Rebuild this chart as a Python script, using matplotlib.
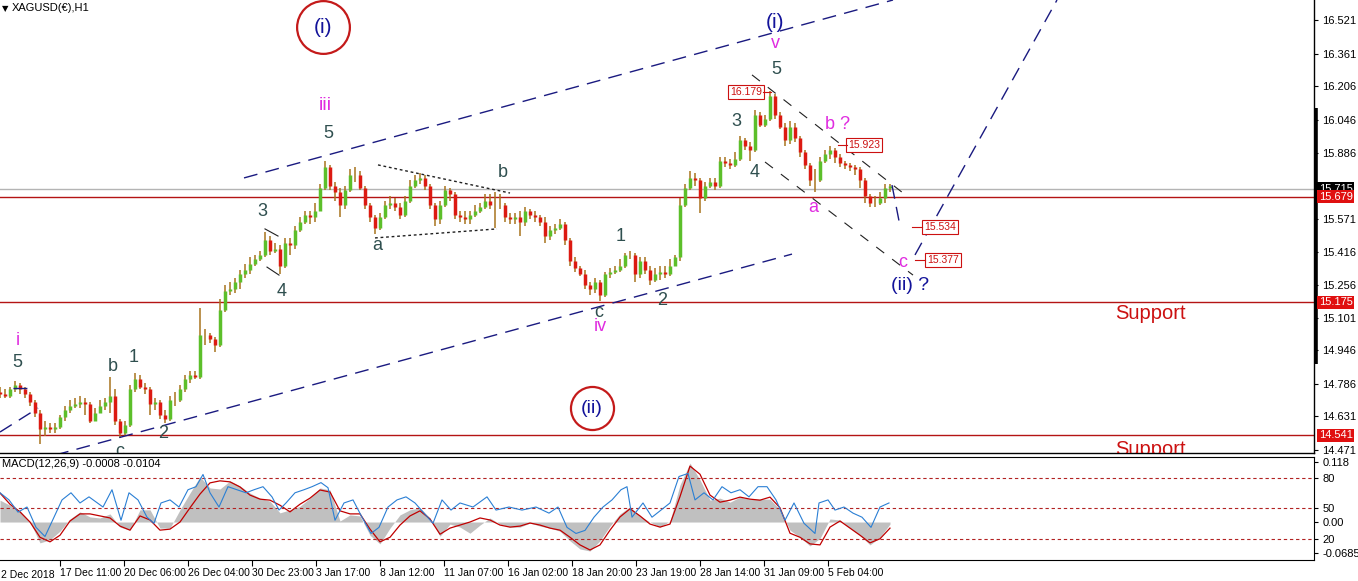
import numpy as np
import matplotlib
matplotlib.use('Agg')
import matplotlib.pyplot as plt
import matplotlib.transforms as mtransforms

# XAGUSD(EUR) H1, bars grouped by 5 hours (hour index from the left edge)
first_open = 14.75
closes = np.array([
    14.74, 14.73, 14.76, 14.78, 14.76, 14.74, 14.70, 14.65, 14.57, 14.58,
    14.57, 14.58, 14.63, 14.66, 14.68, 14.69, 14.70, 14.69, 14.61, 14.65,
    14.68, 14.70, 14.73, 14.61, 14.55, 14.59, 14.76, 14.81, 14.77, 14.76,
    14.69, 14.70, 14.64, 14.62, 14.71, 14.71, 14.76, 14.81, 14.83, 14.82,
    15.02, 15.02, 15.00, 14.97, 15.14, 15.23, 15.24, 15.27, 15.31, 15.33,
    15.36, 15.38, 15.40, 15.47, 15.42, 15.43, 15.35, 15.46, 15.45, 15.52,
    15.56, 15.59, 15.58, 15.61, 15.72, 15.82, 15.73, 15.70, 15.64, 15.71,
    15.78, 15.78, 15.72, 15.64, 15.58, 15.53, 15.58, 15.64, 15.65, 15.63,
    15.59, 15.66, 15.73, 15.76, 15.77, 15.73, 15.64, 15.57, 15.64, 15.71,
    15.69, 15.59, 15.58, 15.57, 15.59, 15.61, 15.63, 15.66, 15.64, 15.64,
    15.64, 15.58, 15.57, 15.58, 15.56, 15.61, 15.59, 15.58, 15.56, 15.49,
    15.52, 15.53, 15.55, 15.47, 15.37, 15.34, 15.31, 15.26, 15.24, 15.27,
    15.21, 15.31, 15.32, 15.33, 15.35, 15.40, 15.40, 15.31, 15.37, 15.33,
    15.28, 15.31, 15.32, 15.31, 15.35, 15.39, 15.64, 15.72, 15.77, 15.76,
    15.67, 15.73, 15.75, 15.73, 15.85, 15.84, 15.83, 15.86, 15.95, 15.92,
    15.90, 16.07, 16.02, 16.05, 16.16, 16.07, 16.01, 15.95, 16.01, 15.96,
    15.89, 15.83, 15.76, 15.76, 15.85, 15.88, 15.90, 15.87, 15.84, 15.83,
    15.82, 15.81, 15.76, 15.68, 15.65, 15.65, 15.67, 15.72, 15.73])
highs = np.array([
    14.77, 14.76, 14.77, 14.80, 14.79, 14.77, 14.75, 14.71, 14.66, 14.61,
    14.60, 14.60, 14.64, 14.68, 14.71, 14.72, 14.73, 14.72, 14.70, 14.67,
    14.71, 14.72, 14.82, 14.76, 14.62, 14.61, 14.78, 14.84, 14.83, 14.79,
    14.77, 14.72, 14.71, 14.66, 14.73, 14.75, 14.78, 14.83, 14.85, 14.85,
    15.15, 15.05, 15.03, 15.01, 15.19, 15.26, 15.27, 15.29, 15.33, 15.36,
    15.39, 15.40, 15.42, 15.51, 15.49, 15.46, 15.45, 15.48, 15.48, 15.54,
    15.58, 15.61, 15.61, 15.65, 15.74, 15.85, 15.83, 15.75, 15.72, 15.73,
    15.81, 15.82, 15.80, 15.73, 15.65, 15.59, 15.60, 15.66, 15.68, 15.67,
    15.65, 15.68, 15.76, 15.78, 15.79, 15.78, 15.74, 15.65, 15.66, 15.73,
    15.72, 15.70, 15.61, 15.61, 15.61, 15.64, 15.65, 15.69, 15.69, 15.70,
    15.69, 15.65, 15.60, 15.60, 15.61, 15.63, 15.62, 15.61, 15.59, 15.58,
    15.54, 15.55, 15.57, 15.56, 15.48, 15.39, 15.35, 15.33, 15.27, 15.29,
    15.28, 15.32, 15.34, 15.35, 15.38, 15.41, 15.42, 15.41, 15.39, 15.39,
    15.35, 15.34, 15.35, 15.35, 15.38, 15.40, 15.67, 15.74, 15.80, 15.79,
    15.77, 15.75, 15.77, 15.77, 15.87, 15.87, 15.86, 15.89, 15.97, 15.96,
    15.94, 16.09, 16.08, 16.07, 16.18, 16.17, 16.08, 16.03, 16.04, 16.03,
    15.97, 15.90, 15.84, 15.81, 15.87, 15.90, 15.92, 15.91, 15.88, 15.85,
    15.84, 15.83, 15.82, 15.77, 15.69, 15.68, 15.70, 15.74, 15.74])
lows = np.array([
    14.72, 14.72, 14.72, 14.75, 14.74, 14.72, 14.68, 14.63, 14.50, 14.54,
    14.55, 14.55, 14.57, 14.61, 14.65, 14.67, 14.67, 14.64, 14.60, 14.61,
    14.65, 14.66, 14.65, 14.59, 14.53, 14.54, 14.58, 14.75, 14.76, 14.74,
    14.64, 14.66, 14.62, 14.60, 14.61, 14.68, 14.70, 14.75, 14.79, 14.81,
    14.81, 14.97, 14.98, 14.94, 14.96, 15.13, 15.21, 15.22, 15.24, 15.29,
    15.31, 15.35, 15.37, 15.39, 15.40, 15.41, 15.31, 15.34, 15.40, 15.43,
    15.51, 15.55, 15.55, 15.56, 15.61, 15.71, 15.71, 15.66, 15.58, 15.62,
    15.70, 15.75, 15.71, 15.62, 15.56, 15.50, 15.52, 15.57, 15.62, 15.61,
    15.57, 15.58, 15.65, 15.72, 15.74, 15.71, 15.62, 15.54, 15.55, 15.63,
    15.66, 15.57, 15.56, 15.55, 15.55, 15.58, 15.60, 15.62, 15.62, 15.53,
    15.62, 15.56, 15.55, 15.55, 15.49, 15.54, 15.57, 15.56, 15.54, 15.46,
    15.47, 15.50, 15.52, 15.45, 15.35, 15.32, 15.30, 15.24, 15.21, 15.22,
    15.18, 15.20, 15.29, 15.31, 15.32, 15.34, 15.38, 15.27, 15.29, 15.31,
    15.26, 15.27, 15.28, 15.29, 15.30, 15.35, 15.37, 15.63, 15.71, 15.73,
    15.60, 15.66, 15.72, 15.71, 15.72, 15.82, 15.81, 15.82, 15.85, 15.90,
    15.85, 15.89, 16.01, 16.01, 16.04, 16.05, 16.00, 15.92, 15.93, 15.94,
    15.87, 15.81, 15.73, 15.70, 15.75, 15.84, 15.86, 15.84, 15.82, 15.81,
    15.80, 15.78, 15.72, 15.65, 15.63, 15.63, 15.64, 15.65, 15.70])
bar_hours = 5

# MACD(12,26,9) main and signal, sampled every 10 hours
macd_step = 10
macd_main = np.array([
    0.043, 0.033, 0.022, 0.000, -0.041, -0.035, -0.018, 0.006, 0.020, 0.010,
    0.008, 0.016, -0.010, -0.016, 0.024, 0.024, -0.012, -0.012, 0.024, 0.057,
    0.089, 0.067, 0.065, 0.081, 0.071, 0.057, 0.047, 0.041, 0.018, 0.024,
    0.031, 0.047, 0.067, 0.063, 0.002, 0.014, 0.012, -0.026, -0.043, -0.012,
    0.014, 0.024, 0.028, 0.008, -0.028, -0.004, -0.010, -0.022, -0.006, 0.008,
    -0.004, -0.010, -0.010, -0.002, -0.008, -0.012, -0.018, -0.037, -0.053, -0.057,
    -0.037, -0.008, 0.016, 0.030, 0.012, 0.000, -0.010, 0.002, 0.073, 0.116,
    0.083, 0.043, 0.047, 0.039, 0.049, 0.045, 0.045, 0.045, 0.024, -0.016,
    -0.030, -0.047, -0.032, 0.006, 0.004, -0.012, -0.026, -0.045, -0.030, -0.004])
macd_signal = np.array([
    0.057, 0.035, 0.020, 0.000, -0.030, -0.039, -0.026, 0.002, 0.016, 0.016,
    0.012, 0.008, -0.008, -0.016, 0.012, 0.004, -0.016, -0.014, 0.000, 0.028,
    0.055, 0.077, 0.081, 0.079, 0.069, 0.053, 0.045, 0.043, 0.033, 0.020,
    0.035, 0.047, 0.063, 0.059, 0.022, 0.016, 0.016, -0.014, -0.039, -0.030,
    -0.006, 0.012, 0.022, 0.006, -0.024, -0.012, -0.006, 0.000, 0.008, 0.004,
    -0.006, -0.010, -0.008, -0.002, -0.006, -0.012, -0.016, -0.030, -0.045, -0.055,
    -0.045, -0.016, 0.010, 0.026, 0.012, -0.004, -0.010, -0.004, 0.050, 0.110,
    0.094, 0.053, 0.039, 0.043, 0.049, 0.045, 0.043, 0.049, 0.028, -0.022,
    -0.030, -0.043, -0.045, -0.010, 0.002, -0.012, -0.026, -0.041, -0.033, -0.012])

# oscillator drawn in the same window (0-100 scale, levels 20/50/80)
osc_hour = [
    0, 9, 18, 27, 36, 45, 54, 62, 71, 80,
    89, 103, 112, 121, 129, 138, 147, 154, 161, 170,
    179, 188, 196, 203, 210, 219, 228, 237, 246, 254,
    263, 272, 279, 286, 295, 304, 312, 321, 328, 335,
    344, 353, 362, 371, 379, 388, 397, 406, 415, 424,
    433, 442, 451, 460, 473, 487, 496, 509, 522, 536,
    549, 558, 567, 576, 585, 594, 603, 612, 621, 627,
    632, 643, 652, 661, 670, 679, 688, 695, 704, 713,
    722, 731, 740, 749, 758, 767, 776, 785, 794, 804,
    815, 819, 828, 835, 844, 853, 862, 871, 880, 889]
osc_vals = [
    65, 58, 46, 51, 31, 22, 41, 58, 65, 55,
    61, 51, 68, 38, 65, 58, 41, 35, 55, 58,
    51, 68, 71, 83, 65, 51, 71, 68, 65, 68,
    71, 61, 48, 55, 65, 68, 71, 75, 70, 38,
    55, 58, 41, 25, 31, 51, 58, 61, 55, 45,
    35, 58, 48, 55, 51, 61, 48, 51, 48, 51,
    45, 51, 31, 25, 28, 41, 51, 58, 68, 71,
    41, 55, 41, 48, 55, 81, 84, 58, 65, 58,
    71, 65, 68, 61, 71, 71, 58, 38, 55, 35,
    25, 55, 58, 48, 51, 45, 41, 31, 51, 55]
osc_levels = [80, 50, 20]

price_ticks = [16.521, 16.361, 16.206, 16.046, 15.886, 15.571, 15.416,
               15.256, 15.101, 14.946, 14.786, 14.631, 14.471]
support_levels = [15.679, 15.175, 14.541]
bid = 15.715

date_hours = [60, 124, 188, 252, 316, 380, 444, 508, 572, 636, 700, 764, 828]
date_labels = ['17 Dec 11:00', '20 Dec 06:00', '26 Dec 04:00', '30 Dec 23:00',
               '3 Jan 17:00', '8 Jan 12:00', '11 Jan 07:00', '16 Jan 02:00',
               '18 Jan 20:00', '23 Jan 19:00', '28 Jan 14:00', '31 Jan 09:00',
               '5 Feb 04:00']

# ---- figure layout (pixel based, MT4 style window)
W, H = 1358, 581
fig = plt.figure(figsize=(W / 100, H / 100), dpi=100)
right = 1314
ax = fig.add_axes([0, (H - 453) / H, right / W, 453 / H])
axm = fig.add_axes([0, (H - 560) / H, right / W, (560 - 457) / H])

AXF = 'Liberation Sans'
GREEN = '#5cbf2a'
RED = '#dc1a12'
BROWN = '#a8741e'
NAVY = '#13139a'
SLATE = '#2f4f4f'
MAG = '#e02ce0'
LRED = '#b41414'

# ---- price panel
t = np.arange(len(closes)) * bar_hours
opens = np.r_[first_open, closes[:-1]]
hi = np.maximum(highs, np.maximum(opens, closes))
lo = np.minimum(lows, np.minimum(opens, closes))
up = closes >= opens
ax.vlines(t, lo, hi, colors=BROWN, lw=1.1, zorder=3)
body_cols = [GREEN if u else RED for u in up]
ax.vlines(t, np.minimum(opens, closes), np.maximum(opens, closes),
          colors=body_cols, lw=2.5, zorder=4)

ax.axhline(bid, color='#b4b4b4', lw=1, zorder=1)
for lvl in support_levels:
    ax.axhline(lvl, color=LRED, lw=1, zorder=2)

# channel and pattern lines
dash_navy = dict(color='#1a1a80', lw=1, ls=(0, (10, 6)), zorder=5)
ax.plot([244, 893], [15.768, 16.616], **dash_navy)
ax.plot([55, 792], [14.447, 15.405], **dash_navy)
ax.plot([0, 38], [14.557, 14.671], **dash_navy)
ax.plot([13, 35], [14.767, 14.767], **dash_navy)
ax.plot([892, 900], [15.734, 15.539], **dash_navy)
ax.plot([915, 1057], [15.401, 16.616], **dash_navy)

dot_k = dict(color='#202020', lw=1, ls=(0, (2, 2)), zorder=5)
ax.plot([378, 510], [15.830, 15.696], **dot_k)
ax.plot([375, 497], [15.482, 15.525], **dot_k)

ax.plot([265, 278], [15.525, 15.491], color='#202020', lw=0.8, zorder=5)
ax.plot([267, 279], [15.343, 15.305], color='#202020', lw=0.8, zorder=5)

fine_k = dict(color='#202020', lw=0.8, ls=(0, (9, 9)), zorder=5)
ax.plot([752, 902], [16.259, 15.700], **fine_k)
ax.plot([765, 913], [15.844, 15.305], **fine_k)

# wave labels
lab = dict(ha='center', va='center', family='Liberation Sans', zorder=6, clip_on=True)
waves = [
    ('(i)', 323, 16.487, NAVY, 15), ('(i)', 775, 16.511, NAVY, 15),
    ('v', 775, 16.408, MAG, 13), ('5', 776, 16.287, SLATE, 13),
    ('iii', 325, 16.111, MAG, 14), ('5', 328, 15.982, SLATE, 13),
    ('3', 262, 15.606, SLATE, 13), ('4', 282, 15.229, SLATE, 13),
    ('a', 377, 15.448, SLATE, 13), ('b', 503, 15.796, SLATE, 13),
    ('1', 621, 15.491, SLATE, 13), ('2', 662, 15.186, SLATE, 13),
    ('c', 599, 15.129, SLATE, 13), ('iv', 600, 15.058, MAG, 13),
    ('i', 18, 14.991, MAG, 13), ('5', 17, 14.886, SLATE, 13),
    ('b', 113, 14.867, SLATE, 13), ('1', 134, 14.914, SLATE, 13),
    ('2', 163, 14.552, SLATE, 13), ('c', 120, 14.462, SLATE, 13),
    ('3', 736, 16.035, SLATE, 13), ('4', 755, 15.796, SLATE, 13),
    ('a', 813, 15.629, MAG, 13), ('b ?', 838, 16.025, MAG, 13),
    ('c', 903, 15.367, MAG, 13), ('(ii) ?', 910, 15.253, NAVY, 14),
    ('(ii)', 592, 14.671, NAVY, 14),
]
for s, x, y, c, fs in waves:
    ax.text(x, y, s, color=c, fontsize=fs, **lab)

ax.plot(323, 16.487, marker='o', ms=38, mfc='none', mec='#c41a1a', mew=1.6, zorder=6)
ax.plot(592, 14.671, marker='o', ms=31, mfc='none', mec='#c41a1a', mew=1.6, zorder=6)

for s, y in [('Support', 15.120), ('Support', 14.476)]:
    ax.text(1150, y, s, color='#cc1111', fontsize=14.5, family='Liberation Sans',
            ha='center', va='center', clip_on=True, zorder=6)

# price tags on the chart
tag = dict(color='#cc1111', fontsize=7.5, va='center', zorder=7, family=AXF,
           bbox=dict(boxstyle='square,pad=0.2', fc='white', ec='#cc1111', lw=0.8))
ax.text(762, 16.179, '16.179', ha='right', **tag)
ax.plot([763, 771], [16.179, 16.179], color='#cc1111', lw=0.8, zorder=7)
ax.text(848, 15.923, '15.923', ha='left', **tag)
ax.plot([838, 847], [15.923, 15.923], color='#cc1111', lw=0.8, zorder=7)
ax.text(924, 15.534, '15.534', ha='left', **tag)
ax.plot([912, 922], [15.534, 15.534], color='#cc1111', lw=0.8, zorder=7)
ax.text(927, 15.377, '15.377', ha='left', **tag)
ax.plot([915, 925], [15.377, 15.377], color='#cc1111', lw=0.8, zorder=7)

ax.set_xlim(0, right)
ax.set_ylim(14.457, 16.616)
ax.yaxis.tick_right()
ax.set_yticks(price_ticks)
ax.set_yticklabels(['%.3f' % v for v in price_ticks], family=AXF)
ax.tick_params(axis='y', direction='out', length=3, labelsize=8, pad=3, width=0.8)
ax.set_xticks([])
for side in ['left', 'top']:
    ax.spines[side].set_visible(False)
ax.spines['right'].set_linewidth(1)
ax.spines['bottom'].set_linewidth(1)

blend = mtransforms.blended_transform_factory(ax.transAxes, ax.transData)
ax.plot([1.0012, 1.0012], [14.881, 16.101], transform=blend, color='black', lw=2.6,
        solid_capstyle='butt', clip_on=False, zorder=8)
ax.text(1.0035, bid, '15.715', transform=blend, color='white', fontsize=8, va='center',
        ha='left', clip_on=False, zorder=8, family=AXF,
        bbox=dict(boxstyle='square,pad=0.15', fc='black', ec='none'))
for lvl in support_levels:
    ax.text(1.0035, lvl, '%.3f' % lvl, transform=blend, color='white', fontsize=8,
            va='center', ha='left', clip_on=False, zorder=9, family=AXF,
            bbox=dict(boxstyle='square,pad=0.15', fc='#e01010', ec='none'))

# ---- MACD window
mt = np.arange(len(macd_main)) * macd_step
axm.fill_between(mt, 0, macd_main, color='#c0c0c0', lw=0, zorder=2)
axm.plot(mt, macd_signal, color='#c00000', lw=0.9, zorder=3)
axm.set_xlim(0, right)
axm.set_ylim(-0.0747, 0.1279)
axm.set_xticks(date_hours)
axm.set_xticklabels(date_labels, ha='left', family=AXF)
axm.tick_params(axis='x', direction='out', length=4, labelsize=7.5, pad=2, width=0.8)
axm.spines['left'].set_visible(False)

axo = axm.twinx()
for lvl in osc_levels:
    axo.axhline(lvl, color='#b22222', lw=0.8, ls=(0, (3, 2.5)), zorder=1)
axo.plot(osc_hour, osc_vals, color='#2a7fd4', lw=0.8, zorder=4)
axo.set_ylim(-1.1, 100.2)
axo.set_yticks(osc_levels)
axo.set_yticklabels([str(v) for v in osc_levels], family=AXF)
axo.tick_params(axis='y', direction='out', length=3, labelsize=8, pad=3, width=0.8)
for side in axo.spines:
    axo.spines[side].set_visible(False)

# twinx puts the main axis on the left, move it back to the right
axm.yaxis.tick_right()
axm.set_yticks([0.118, 0.0, -0.061])
axm.set_yticklabels(['0.118', '0.00', '-0.0685'], family=AXF)
axm.tick_params(axis='y', direction='out', length=3, labelsize=8, pad=3, width=0.8)

blend_m = mtransforms.blended_transform_factory(axm.transData, axm.transAxes)
axm.text(1, -0.093, '2 Dec 2018', transform=blend_m, fontsize=7.5, ha='left', va='top',
         family=AXF)

# ---- window captions
fig.text(2 / W, 1 - 9 / H, '\u25bc', fontsize=6, va='center', ha='left')
fig.text(12 / W, 1 - 8 / H, 'XAGUSD(\u20ac),H1', fontsize=8, va='center', ha='left',
         family=AXF)
fig.text(2 / W, 1 - 464 / H, 'MACD(12,26,9) -0.0008 -0.0104', fontsize=8,
         va='center', ha='left', family=AXF)

fig.savefig('out.png', dpi=100)
